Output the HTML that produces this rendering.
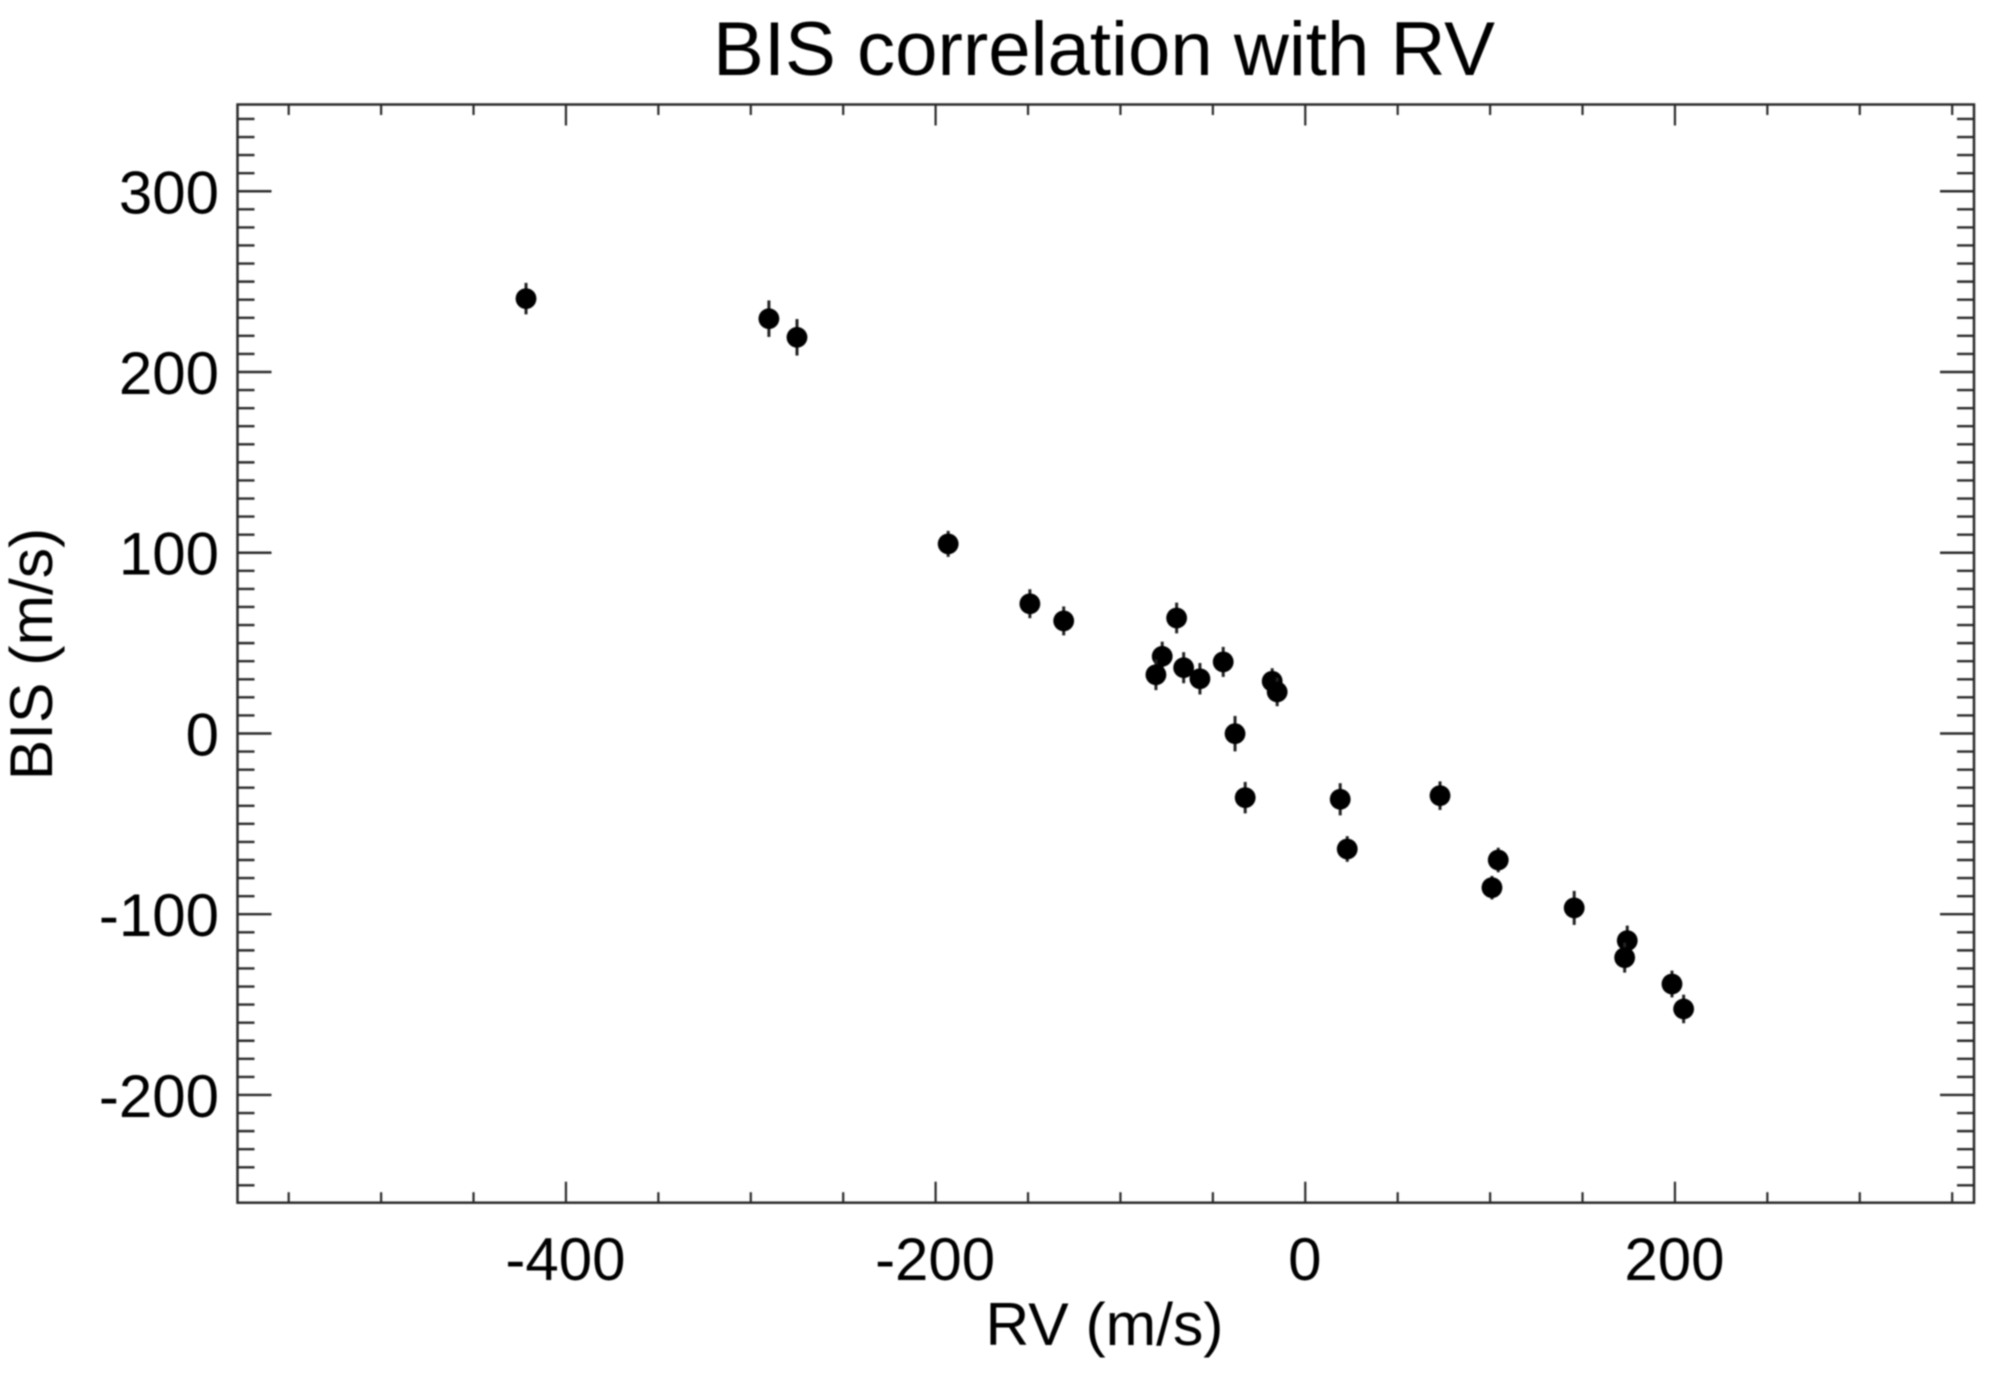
<!DOCTYPE html>
<html lang="en">
<head>
<meta charset="utf-8">
<title>BIS correlation with RV</title>
<style>
  html, body { margin: 0; padding: 0; background: #fff; }
  body { width: 2010px; height: 1378px; overflow: hidden; }
  svg { display: block; filter: blur(0.7px); }
  text { font-family: "Liberation Sans", sans-serif; fill: #000; }
</style>
</head>
<body>
<svg id="chart" xmlns="http://www.w3.org/2000/svg" width="2010" height="1378" viewBox="0 0 2010 1378">
  <rect x="0" y="0" width="2010" height="1378" fill="#ffffff"/>
  <text x="1104" y="75" font-size="76.2" text-anchor="middle">BIS correlation with RV</text>
  <text x="1104.5" y="1345" font-size="60.6" text-anchor="middle">RV (m/s)</text>
  <text transform="translate(52,654) rotate(-90)" font-size="60.6" text-anchor="middle">BIS (m/s)</text>
  <g id="ticks"></g>
  <g id="tick-labels"></g>
  <rect x="237.5" y="104.5" width="1736.5" height="1098.2" fill="none" stroke="#2a2a2a" stroke-width="2.5"/>
  <g id="points"></g>
</svg>
<script>
const rvValues = [-421.6, -290.2, -275.0, -193.2, -149.0, -130.7, -69.6, -77.4, -80.8, -65.8, -57.0, -44.4, -17.9, -15.2, -38.0, -32.5, 18.9, 22.7, 72.9, 104.4, 101.0, 145.5, 174.2, 172.8, 198.4, 204.7];
const bisValues = [240.6, 229.5, 219.2, 104.9, 71.8, 62.3, 63.9, 42.7, 32.5, 36.4, 30.3, 39.6, 28.9, 23.0, -0.1, -35.5, -36.4, -63.9, -34.4, -70.0, -85.3, -96.5, -114.6, -124.0, -138.6, -152.4];
const bisErrors = [8.7, 10.1, 10.1, 7.2, 8.0, 8.0, 8.5, 8.1, 8.5, 8.6, 8.7, 8.3, 7.2, 7.9, 9.8, 8.7, 8.9, 7.1, 7.9, 6.8, 6.5, 9.4, 8.3, 8.3, 7.4, 7.9];
const xTickLabels = [-400, -200, 0, 200];
const yTickLabels = [-200, -100, 0, 100, 200, 300];
const xDomain = [-577.7, 361.8];
const yDomain = [-259.6, 348.0];
const xMinorStep = 50;
const yMinorStep = 10;

const NS = 'http://www.w3.org/2000/svg';
const plotLeft = 237.5;
const plotRight = 1974;
const plotTop = 104.5;
const plotBottom = 1202.7;

function xScale(v) {
  return plotLeft + (v - xDomain[0]) / (xDomain[1] - xDomain[0]) * (plotRight - plotLeft);
}
function yScale(v) {
  return plotBottom - (v - yDomain[0]) / (yDomain[1] - yDomain[0]) * (plotBottom - plotTop);
}
function makeLine(x1, y1, x2, y2, width, color) {
  const el = document.createElementNS(NS, 'line');
  el.setAttribute('x1', x1);
  el.setAttribute('y1', y1);
  el.setAttribute('x2', x2);
  el.setAttribute('y2', y2);
  el.setAttribute('stroke', color);
  el.setAttribute('stroke-width', width);
  return el;
}

const tickGroup = document.getElementById('ticks');
const labelGroup = document.getElementById('tick-labels');
const pointGroup = document.getElementById('points');

/* x ticks, bottom and top */
for (let v = Math.ceil(xDomain[0] / xMinorStep) * xMinorStep; v <= xDomain[1]; v += xMinorStep) {
  const major = xTickLabels.includes(v) || v % 200 === 0;
  const len = major ? 21 : 10.5;
  const x = xScale(v);
  const bottom = makeLine(x, plotBottom, x, plotBottom - len, 2.2, '#2a2a2a');
  
  
  tickGroup.appendChild(bottom);
  const top = makeLine(x, plotTop, x, plotTop + len, 2.2, '#2a2a2a');
  
  
  tickGroup.appendChild(top);
}

/* y ticks, left and right */
for (let v = Math.ceil(yDomain[0] / yMinorStep) * yMinorStep; v <= yDomain[1]; v += yMinorStep) {
  const major = v % 100 === 0;
  const len = major ? 34 : 17;
  const y = yScale(v);
  const left = makeLine(plotLeft, y, plotLeft + len, y, 2.4, '#2a2a2a');
  
  
  tickGroup.appendChild(left);
  const right = makeLine(plotRight, y, plotRight - len, y, 2.4, '#2a2a2a');
  
  
  tickGroup.appendChild(right);
}

/* tick labels */
xTickLabels.forEach(function (v) {
  const t = document.createElementNS(NS, 'text');
  t.setAttribute('x', xScale(v) - 0.5);
  t.setAttribute('y', 1280);
  t.setAttribute('font-size', 60);
  t.setAttribute('text-anchor', 'middle');
  
  
  t.textContent = String(v);
  labelGroup.appendChild(t);
});
yTickLabels.forEach(function (v) {
  const t = document.createElementNS(NS, 'text');
  t.setAttribute('x', 219);
  t.setAttribute('y', yScale(v) + 22);
  t.setAttribute('font-size', 60);
  t.setAttribute('text-anchor', 'end');
  
  
  t.textContent = String(v);
  labelGroup.appendChild(t);
});

/* points with error bars */
rvValues.forEach(function (rv, i) {
  const cx = xScale(rv);
  const bar = makeLine(cx, yScale(bisValues[i] + bisErrors[i]), cx, yScale(bisValues[i] - bisErrors[i]), 3, '#222222');
  
  
  pointGroup.appendChild(bar);
  const dot = document.createElementNS(NS, 'circle');
  dot.setAttribute('cx', cx);
  dot.setAttribute('cy', yScale(bisValues[i]));
  dot.setAttribute('r', 10.4);
  dot.setAttribute('fill', '#000000');
  
  
  pointGroup.appendChild(dot);
});
</script>
</body>
</html>
